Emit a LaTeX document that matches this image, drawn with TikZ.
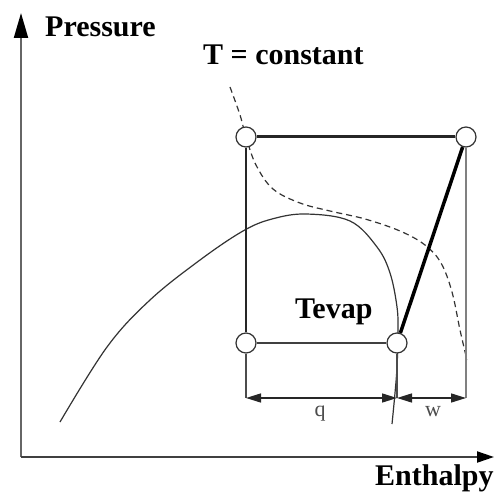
\documentclass[tikz,border=0pt]{standalone}
\usepackage{fontspec}
\setmainfont{Liberation Serif}
\usetikzlibrary{arrows.meta}
\begin{document}
\begin{tikzpicture}[x=1pt, y=-1pt, >={Triangle[length=15pt,width=9pt]},
    state/.style={circle, draw=black!80, fill=white, line width=1.2pt, minimum size=20pt, inner sep=0pt},
    biglabel/.style={font=\fontsize{30}{36}\selectfont\bfseries, inner sep=0pt, anchor=base west},
    dimlabel/.style={font=\fontsize{22}{26}\selectfont, text=black!70, inner sep=0pt, anchor=base}]
    \useasboundingbox (0,0) rectangle (494,494);

    % axes
    \coordinate (o) at (21,457);
    \draw[black!60, line width=2pt, -{Triangle[length=25pt,width=14pt,color=black]}] (o) -- (21,13);
    \draw[black!75, line width=2pt, -{Triangle[length=17pt,width=11pt,color=black]}] (o) -- (494,457);
    \node[biglabel] (plabel) at (45,37) {Pressure};
    \node[biglabel] (hlabel) at (375,485) {Enthalpy};

    % saturation dome and isotherm
    \draw[black!80, line width=1.2pt] plot[smooth, tension=0.6] coordinates
        {(60,422) (107,347) (150,300) (200,260) (243,231) (272,219) (306,214)
         (350,221) (377,247) (390,273) (397,307) (398,333) (397,367) (395,393) (392,424)};
    \draw[black!80, line width=1.2pt, dash pattern=on 6pt off 4pt] plot[smooth, tension=0.6] coordinates
        {(230,87) (240,115) (246,137) (256,165) (273,189) (300,203) (330,211)
         (365,219) (400,231) (425,245) (441,263) (452,292) (460,330) (467,360)};
    \node[biglabel] (tlabel) at (203,65) {T = constant};
    \node[biglabel] (evlabel) at (295,318) {Tevap};

    % cycle
    \node[state] (a) at (246,137) {};
    \node[state] (b) at (466,137) {};
    \node[state] (c) at (246,343) {};
    \node[state] (d) at (397,343) {};
    \coordinate (qa) at (246,398);
    \coordinate (qb) at (397,398);
    \coordinate (wb) at (466,398);

    \draw[black!85, line width=2pt] (a) -- (c);
    \draw[black!85, line width=3pt] (a) -- (b);
    \draw[line width=3.5pt] (d) -- (b);
    \draw[black!75, line width=2.5pt] (c) -- (d);
    \draw[black!70, line width=1.5pt] (c) -- (qa);
    \draw[black!70, line width=1.5pt] (d) -- (qb);
    \draw[black!50, line width=2pt] (b) -- (wb);

    % q and w
    \draw[<->, black!85, line width=1.5pt] (qa) -- (qb);
    \draw[<->, black!85, line width=1.5pt] (qb) -- (wb);
    \node[dimlabel] (q) at (320,416) {q};
    \node[dimlabel] (w) at (433,416) {w};
\end{tikzpicture}
\end{document}
